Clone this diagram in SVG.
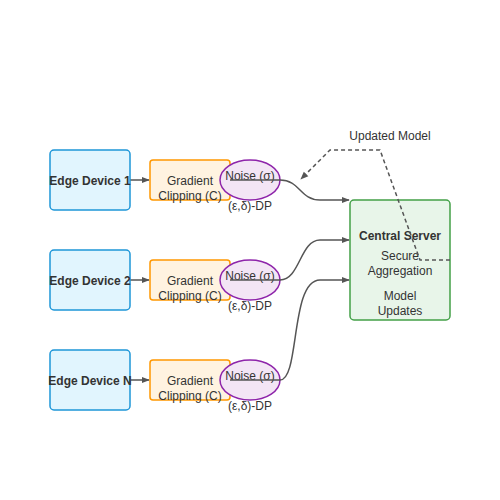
<svg xmlns="http://www.w3.org/2000/svg" width="500" height="500" viewBox="0 0 500 500">
<defs>
<marker id="ah" viewBox="0 0 10 10" refX="9" refY="5" markerWidth="8" markerHeight="8" markerUnits="userSpaceOnUse" orient="auto"><path d="M0,1 L10,5 L0,9 Z" fill="#555"/></marker>
<style>
.dev{fill:#e1f5fe;stroke:#1e96d8;stroke-width:1.5}
.clip{fill:#fff3e0;stroke:#ff9800;stroke-width:1.5}
.noise{fill:#f3e5f5;stroke:#8e24aa;stroke-width:1.5}
.srv{fill:#e8f5e9;stroke:#43a047;stroke-width:1.5}
text{font-family:"Liberation Sans",Arial,sans-serif;font-size:12px;fill:#333;text-anchor:middle}
.b{font-weight:bold}
.e{fill:none;stroke:#555;stroke-width:1.5}
.d{fill:none;stroke:#555;stroke-width:1.5;stroke-dasharray:4 3}
</style>
</defs>
<rect width="500" height="500" fill="#fff"/>
<g id="edges">
<path class="e" d="M130,180 L149,180" marker-end="url(#ah)"/>
<path class="e" d="M130,280 L149,280" marker-end="url(#ah)"/>
<path class="e" d="M130,380 L149,380" marker-end="url(#ah)"/>
</g>
<g id="dev1"><rect class="dev" x="50" y="150" width="80" height="60" rx="4"/><text class="b" x="90" y="185">Edge Device 1</text></g>
<g id="dev2"><rect class="dev" x="50" y="250" width="80" height="60" rx="4"/><text class="b" x="90" y="285">Edge Device 2</text></g>
<g id="devN"><rect class="dev" x="50" y="350" width="80" height="60" rx="4"/><text class="b" x="90" y="385">Edge Device N</text></g>
<g id="clip1"><rect class="clip" x="150" y="160" width="80" height="40" rx="3"/><text x="190" y="185">Gradient</text><text x="190" y="200">Clipping (C)</text></g>
<g id="clip2"><rect class="clip" x="150" y="260" width="80" height="40" rx="3"/><text x="190" y="285">Gradient</text><text x="190" y="300">Clipping (C)</text></g>
<g id="clipN"><rect class="clip" x="150" y="360" width="80" height="40" rx="3"/><text x="190" y="385">Gradient</text><text x="190" y="400">Clipping (C)</text></g>
<g id="noise1"><ellipse class="noise" cx="250" cy="180" rx="30" ry="20"/><text x="250" y="180">Noise (σ)</text><text x="250" y="210">(ε,δ)-DP</text></g>
<g id="noise2"><ellipse class="noise" cx="250" cy="280" rx="30" ry="20"/><text x="250" y="280">Noise (σ)</text><text x="250" y="310">(ε,δ)-DP</text></g>
<g id="noiseN"><ellipse class="noise" cx="250" cy="380" rx="30" ry="20"/><text x="250" y="380">Noise (σ)</text><text x="250" y="410">(ε,δ)-DP</text></g>
<g id="server"><rect class="srv" x="350" y="200" width="100" height="120" rx="4"/>
<text class="b" x="400" y="240">Central Server</text>
<text x="400" y="260">Secure</text><text x="400" y="275">Aggregation</text>
<text x="400" y="300">Model</text><text x="400" y="315">Updates</text></g>
<g id="connectors">
<path class="e" d="M230,180 L280,180 C300,180 300,200 320,200 L349,200" marker-end="url(#ah)"/>
<path class="e" d="M230,280 L280,280 C300,280 300,240 320,240 L349,240" marker-end="url(#ah)"/>
<path class="e" d="M230,380 L280,380 C300,380 290,280 320,280 L349,280" marker-end="url(#ah)"/>
<path class="d" d="M450,260 L420,260 L380,150 L330,150 L301,179" marker-end="url(#ah)"/>
<text x="390" y="140">Updated Model</text>
</g>
</svg>
